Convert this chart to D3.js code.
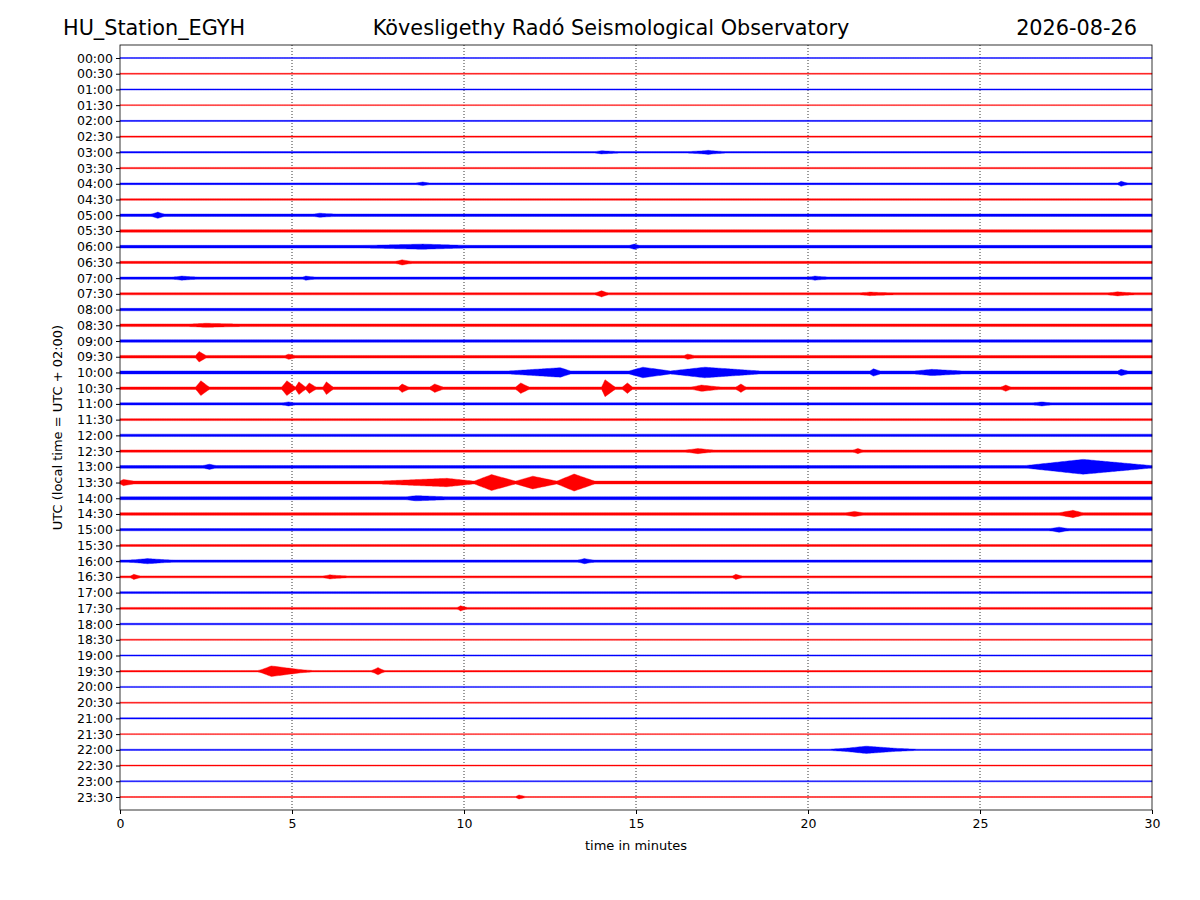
<!DOCTYPE html>
<html><head><meta charset="utf-8">
<script src="https://cdn.jsdelivr.net/npm/d3@7"></script>
<style>body{margin:0;background:#fff}text{font-family:"DejaVu Sans",sans-serif}</style>
</head><body>
<svg id="c" width="1200" height="900"></svg>
<script>
// row labels (UTC, every 30 minutes)
var rows = d3.range(48).map(function(i){ return d3.format("02")(Math.floor(i/2)) + ":" + (i%2 ? "30" : "00"); });
// background noise level per row (half amplitude)
var baseAmp = [0.8,0.8,0.9,0.7,0.9,0.9,1.2,1.1,1.4,1.3,2.0,2.0,2.2,1.8,1.8,1.7,2.0,2.2,2.0,2.2,2.5,2.0,1.8,1.6,
               2.0,1.8,2.2,2.4,2.4,2.2,1.8,1.6,1.8,1.6,1.6,1.5,1.3,1.0,1.0,1.2,0.9,0.8,1.0,0.8,1.0,0.8,0.9,0.8];
// events: [row, start min, peak min, end min, peak half amplitude]
var events = [
 [6,13.8,14.0,14.5,2.6],[6,16.5,17.1,17.6,3],
 [8,8.6,8.8,9.0,2.8],[8,29.0,29.1,29.3,3.5],
 [10,0.9,1.1,1.3,4],[10,5.6,5.8,6.3,3],
 [12,7.0,8.8,10.2,3.5],[12,14.8,14.95,15.1,3.5],
 [13,8.0,8.2,8.5,3.5],
 [14,1.5,1.8,2.3,3],[14,5.3,5.4,5.7,3],[14,20.0,20.2,20.6,3],
 [15,13.8,14.0,14.2,4],[15,21.5,21.8,22.5,2.8],[15,28.7,29.0,29.5,3],
 [17,2.0,2.5,3.5,3],
 [19,2.2,2.3,2.5,6],[19,4.8,4.9,5.1,3.5],[19,16.4,16.5,16.7,3.5],
 [20,11.3,12.8,13.1,5.5],[20,14.8,15.2,16.0,6],[20,16.0,17.0,18.6,6],[20,21.8,21.9,22.1,4.5],[20,23.1,23.6,24.5,4],[20,29.0,29.1,29.3,4],
 [21,2.2,2.35,2.6,8],[21,4.7,4.85,5.1,8],[21,5.1,5.2,5.4,7],[21,5.4,5.5,5.7,6],[21,5.9,6.0,6.2,7],[21,8.1,8.2,8.4,5],
 [21,9.0,9.15,9.4,5],[21,11.5,11.65,11.9,6],[21,14.0,14.1,14.4,9],[21,14.6,14.75,14.9,6],[21,16.6,16.9,17.5,4],
 [21,17.9,18.05,18.2,5],[21,25.6,25.75,25.9,4],
 [22,4.7,4.9,5.1,3],[22,26.5,26.8,27.1,3],
 [25,16.4,16.8,17.3,3.5],[25,21.3,21.45,21.6,3.5],
 [26,2.4,2.6,2.8,3.5],[26,26.3,28.0,30.0,8],
 [27,0.0,0.1,0.4,4],[27,7.5,9.5,10.3,5],[27,10.3,10.8,11.5,8.5],[27,11.5,12.0,12.7,7],[27,12.7,13.2,13.8,9],
 [28,8.3,8.6,9.6,3.5],
 [29,21.1,21.35,21.6,3.5],[29,27.3,27.7,28.0,4.5],
 [30,27.0,27.3,27.6,3.5],
 [32,0.2,0.8,1.6,3.5],[32,13.3,13.5,13.8,3.5],
 [33,0.3,0.4,0.6,3.5],[33,5.9,6.1,6.6,3],[33,17.8,17.9,18.1,3.5],
 [35,9.8,9.9,10.1,3.5],
 [39,4.0,4.4,5.6,6],[39,7.3,7.5,7.7,4.5],
 [44,20.6,21.7,23.2,4.5],
 [47,11.5,11.6,11.8,3]
];
var xTicks = [0,5,10,15,20,25,30];

var svg = d3.select("#c");
var L = 120, R = 1152, T = 45, B = 810;
var x = d3.scaleLinear().domain([0,30]).range([L,R]);
var y = d3.scalePoint().domain(rows).range([58,797]);
var amp = d3.scaleLinear().domain([0,2.5,9]).range([0,1.5,8.5]); // half amplitude in px

// grid lines
svg.append("g").selectAll("line").data(xTicks.slice(1,-1)).enter().append("line")
  .attr("x1",function(d){return x(d);}).attr("x2",function(d){return x(d);})
  .attr("y1",T).attr("y2",B).attr("stroke","#000").attr("stroke-width",0.8).attr("stroke-dasharray","1,2");

// envelope per row
var grid = d3.range(0,30.001,0.05);
function envelope(r){
  var ev = events.filter(function(e){return e[0]===r;});
  return grid.map(function(t){
    var a = baseAmp[r];
    ev.forEach(function(e){
      if(t>=e[1] && t<=e[3]){
        var v = t<=e[2] ? (t-e[1])/(e[2]-e[1]||1) : 1-(t-e[2])/(e[3]-e[2]||1);
        a = Math.max(a, baseAmp[r] + (e[4]-baseAmp[r])*v);
      }
    });
    return [t,a];
  });
}
var area = d3.area().x(function(d){return x(d[0]);});
rows.forEach(function(lab,r){
  var cy = y(lab);
  area.y0(function(d){return cy-amp(d[1]);}).y1(function(d){return cy+amp(d[1]);});
  var col = r%2 ? "#ff0000" : "#0000ff";
  svg.append("path").datum(envelope(r)).attr("d",area).attr("fill",col).attr("stroke",col).attr("stroke-width",0.4);
});

// frame and axes
svg.append("rect").attr("x",L).attr("y",T).attr("width",R-L).attr("height",B-T).attr("fill","none").attr("stroke","#000").attr("stroke-width",0.8);
var gx = svg.append("g").attr("transform","translate(0,"+B+")").call(d3.axisBottom(x).tickValues(xTicks).tickSize(4).tickPadding(5));
var gy = svg.append("g").attr("transform","translate("+L+",0)").call(d3.axisLeft(y).tickSize(4).tickPadding(3));
[gx,gy].forEach(function(g){ g.select(".domain").remove(); g.selectAll("text").attr("font-size",12.5).attr("fill","#000").style("font-family","DejaVu Sans"); });

svg.append("text").attr("x",(L+R)/2).attr("y",850).attr("text-anchor","middle").attr("font-size",13).text("time in minutes");
svg.append("text").attr("transform","translate(62,"+(T+B)/2+") rotate(-90)").attr("text-anchor","middle").attr("font-size",13).text("UTC (local time = UTC + 02:00)");
svg.append("text").attr("x",63).attr("y",35).attr("font-size",20.8).text("HU_Station_EGYH");
svg.append("text").attr("x",611).attr("y",35).attr("text-anchor","middle").attr("font-size",20.8).text("Kövesligethy Radó Seismological Observatory");
svg.append("text").attr("x",1137).attr("y",35).attr("text-anchor","end").attr("font-size",20.8).text("2026-08-26");
</script>
</body></html>
